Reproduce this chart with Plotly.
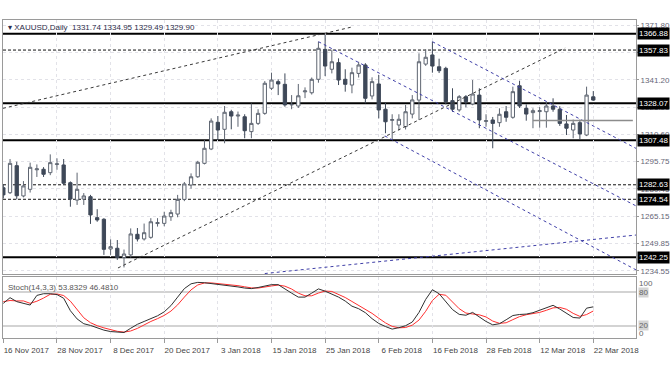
import plotly.graph_objects as go

# ---------------- data ----------------
bars = list(range(89))
opens = [1281, 1278.2, 1293.3, 1276.4, 1280.1, 1291, 1291.3, 1289.4, 1294, 1293.7,
         1283.8, 1274.1, 1274.7, 1276, 1264.3, 1263.4, 1246.8, 1247.2, 1242, 1243.5,
         1255, 1252.4, 1253.3, 1261, 1261.1, 1264.8, 1266.3, 1274.5, 1282.5, 1287.1,
         1294.6, 1302.6, 1317.5, 1313.6, 1323.4, 1321, 1320.6, 1312.3, 1316.9, 1322.5,
         1336.5, 1340.2, 1338.7, 1327.2, 1326.6, 1334.5, 1334, 1341.5, 1358.2, 1347.1,
         1350.8, 1341.5, 1338.3, 1344.8, 1349.5, 1332.2, 1338.9, 1324.8, 1318.6, 1316,
         1315.1, 1322.1, 1329.9, 1350, 1355.1, 1348.5, 1347.6, 1329.6, 1324.4, 1331.8,
         1327.7, 1332.7, 1318, 1318.8, 1317.3, 1323.4, 1320.3, 1337.9, 1325.3, 1322.9,
         1323.5, 1323.4, 1326.6, 1324.8, 1316.6, 1313.2, 1317.3, 1310.4, 1331.74]
highs = [1283, 1297, 1295.5, 1284.7, 1295, 1294, 1292.5, 1299.6, 1297.4, 1297,
         1284.5, 1289.4, 1278, 1277, 1269, 1264, 1252.2, 1251.8, 1246.5, 1258.3,
         1258.5, 1261, 1264, 1264, 1267.6, 1268.7, 1277, 1284.2, 1289, 1296,
         1307.6, 1319.7, 1321, 1326.6, 1324.5, 1323.5, 1322, 1328, 1324.8, 1340.5,
         1345.2, 1341.5, 1344.8, 1332.7, 1338.9, 1337, 1342.5, 1362.5, 1366.5, 1358,
         1353.2, 1347.1, 1348, 1351.3, 1350.5, 1342.6, 1343.9, 1328.4, 1322, 1322,
         1327.2, 1332.7, 1356, 1358.2, 1362.5, 1353, 1348.5, 1336.5, 1332.7, 1332.7,
         1341.1, 1336.5, 1322, 1320.5, 1325.3, 1326.6, 1337.4, 1340.7, 1327.5, 1325.3,
         1326, 1329, 1330.9, 1326.5, 1321.6, 1319, 1319, 1337.4, 1334.95]
lows = [1275, 1277.5, 1274.5, 1275.6, 1278.3, 1287, 1287, 1288, 1291, 1282.5,
        1270.4, 1271.4, 1271.4, 1260.8, 1262, 1243.5, 1243.5, 1240.7, 1236.5, 1242,
        1251, 1251.5, 1252.5, 1259.3, 1259.5, 1262.5, 1264.5, 1273.5, 1280.5, 1286.5,
        1294, 1302, 1307.6, 1305.8, 1313.6, 1315, 1308.6, 1308.6, 1316, 1321.7,
        1335.5, 1332.7, 1326.2, 1324.8, 1325.5, 1331, 1333, 1339.6, 1343.3, 1344.8,
        1338.3, 1334.6, 1333.7, 1342.5, 1328.1, 1330.3, 1319.7, 1311.4, 1308, 1313,
        1313.5, 1319.7, 1318.8, 1349, 1345.2, 1345, 1327.5, 1323.4, 1323.4, 1325.9,
        1327, 1314.2, 1315, 1303, 1315, 1317.8, 1319.5, 1325.5, 1318.4, 1314.2,
        1314.5, 1314.5, 1323.4, 1315.5, 1310.4, 1308.6, 1308, 1309.8, 1329.49]
closes = [1277, 1294.6, 1276.5, 1282, 1292.4, 1291.5, 1288.5, 1295, 1294.3, 1283.5,
          1274.7, 1280.1, 1276.4, 1265.8, 1263, 1246.6, 1248.1, 1242, 1244, 1255.2,
          1252.4, 1255.9, 1262, 1261.5, 1265.2, 1267.1, 1274.5, 1283.1, 1287.1, 1295.2,
          1303, 1318.2, 1313.2, 1323.1, 1321, 1321.5, 1312.8, 1316.9, 1322.5, 1339.3,
          1341.1, 1338.9, 1327.2, 1327.5, 1332.3, 1335, 1341.5, 1358.8, 1348.9, 1351.3,
          1341.1, 1338.7, 1345.2, 1349.5, 1330.9, 1340.2, 1324.4, 1317.8, 1319, 1319.2,
          1323.4, 1330, 1351.3, 1353.8, 1348.9, 1346.3, 1329, 1324.8, 1331.8, 1329,
          1333.3, 1318.8, 1318.4, 1316.9, 1322, 1320.3, 1334.6, 1326.6, 1322.1, 1324,
          1324, 1326.6, 1324.8, 1316.9, 1314.2, 1316.9, 1311, 1332.7, 1329.90]

stoch_k = [60, 70, 63, 60, 57, 74, 77, 77, 75.5, 69,
           47, 32.5, 24, 21, 16.5, 12.7, 10.2, 9, 8.5, 16,
           23, 28, 33, 38, 45, 56, 71, 86, 94.5, 97,
           96.4, 95, 94, 93, 91.5, 89, 87, 86, 88, 91,
           93, 93, 85, 78, 71, 71, 78, 85.5, 81.5, 76,
           71, 64, 55, 50.5, 43.5, 33, 24.5, 19, 14.5, 17,
           20.5, 27, 44, 67, 84, 77, 62, 49, 40.5, 39,
           44, 36, 28, 22, 24, 31, 38.5, 40.3, 41, 43.5,
           47.5, 52, 56.5, 50, 42, 35, 34, 51.5, 53.83]
stoch_d = [63, 65, 64.3, 64.3, 60, 63.7, 69.3, 76, 76.5, 73.8,
           63.8, 49.5, 34.5, 25.8, 20.5, 16.7, 13.1, 10.6, 9.2, 11.2,
           15.8, 22.3, 28, 33, 38.7, 46.3, 57.3, 71, 83.8, 92.5,
           96, 96.1, 95.1, 94, 92.8, 91.2, 89.2, 87.3, 87, 88.3,
           90.7, 92.3, 90.3, 85.3, 78, 73.3, 73.3, 78.2, 81.7, 81,
           76.2, 70.3, 63.3, 56.5, 49.7, 42.3, 33.7, 25.5, 19.3, 16.8,
           17.3, 21.5, 30.5, 46, 65, 76, 74.3, 62.7, 50.5, 42.8,
           41.2, 39.7, 36, 28.7, 24.7, 25.7, 31.2, 36.6, 39.9, 41.6,
           44, 47.7, 52, 52.8, 49.5, 42.3, 37, 40.2, 46.48]

tick_bars = [0, 8, 16, 24, 32, 40, 48, 56, 64, 72, 80, 88]
tick_labels = ["16 Nov 2017", "28 Nov 2017", "8 Dec 2017", "20 Dec 2017", "3 Jan 2018",
               "15 Jan 2018", "25 Jan 2018", "6 Feb 2018", "16 Feb 2018", "28 Feb 2018",
               "12 Mar 2018", "22 Mar 2018"]

price_ticks = [1371.80, 1356.50, 1341.20, 1325.90, 1310.60, 1295.75, 1280.45, 1265.15, 1249.85, 1234.55]
solid_levels = [1366.88, 1328.07, 1307.48, 1242.25]
dashed_levels = [1357.83, 1282.63, 1274.54]

# trend lines: (bar start, price start, bar end, price end)
black_trends = [(-0.05, 1325.3, 52.0, 1370.7), (17.1, 1236.2, 83.8, 1359.0)]
blue_trends = [(47, 1362.5, 94.4, 1270.8), (64, 1362.5, 94.4, 1302.9),
               (56.9, 1309.9, 94.4, 1235.1), (39.0, 1233.1, 94.4, 1254.6)]
gray_segment = (79, 1318.5, 93.9, 1318.5)

title_text = "▾ XAUUSD,Daily  1331.74 1334.95 1329.49 1329.90"
stoch_text = "Stoch(14,3,3) 53.8329 46.4810"

# ---------------- figure ----------------
FONT = "Liberation Sans, Arial, sans-serif"
fig = go.Figure()

for (b0, p0, b1, p1) in black_trends:
    fig.add_trace(go.Scatter(x=[b0, b1], y=[p0, p1], mode="lines", xaxis="x", yaxis="y",
                             line=dict(color="#3a3a3a", width=1, dash="3px,3px"), hoverinfo="skip"))
for (b0, p0, b1, p1) in blue_trends:
    fig.add_trace(go.Scatter(x=[b0, b1], y=[p0, p1], mode="lines", xaxis="x", yaxis="y",
                             line=dict(color="#4040a8", width=1, dash="3px,3px"), hoverinfo="skip"))
fig.add_trace(go.Scatter(x=[gray_segment[0], gray_segment[2]], y=[gray_segment[1], gray_segment[3]],
                         mode="lines", xaxis="x", yaxis="y",
                         line=dict(color="#8c8c8c", width=1.5), hoverinfo="skip"))

fig.add_trace(go.Candlestick(
    x=bars, open=opens, high=highs, low=lows, close=closes, xaxis="x", yaxis="y",
    increasing=dict(fillcolor="#ffffff", line=dict(color="#5e6571", width=1)),
    decreasing=dict(fillcolor="#3e4858", line=dict(color="#3e4858", width=1)),
    whiskerwidth=0, hoverinfo="skip"))

fig.add_trace(go.Scatter(x=bars, y=stoch_d, mode="lines", xaxis="x2", yaxis="y2",
                         line=dict(color="#ff3030", width=1), hoverinfo="skip"))
fig.add_trace(go.Scatter(x=bars, y=stoch_k, mode="lines", xaxis="x2", yaxis="y2",
                         line=dict(color="#303030", width=1), hoverinfo="skip"))

shapes = []
for lv in solid_levels:
    shapes.append(dict(type="line", xref="x domain", yref="y", x0=0, x1=1, y0=lv, y1=lv,
                       line=dict(color="#000000", width=2), layer="below"))
for lv in dashed_levels:
    shapes.append(dict(type="line", xref="x domain", yref="y", x0=0, x1=1, y0=lv, y1=lv,
                       line=dict(color="#111111", width=1, dash="3px,2px"), layer="below"))
for lv in [80, 20]:
    shapes.append(dict(type="line", xref="x2 domain", yref="y2", x0=0, x1=1, y0=lv, y1=lv,
                       line=dict(color="#c4c4c4", width=1.5), layer="below"))

annotations = []
for lv in solid_levels + dashed_levels:
    annotations.append(dict(x=1, xref="paper", y=lv, yref="y", xanchor="left", yanchor="middle",
                            xshift=1, text="%.2f" % lv, showarrow=False, bgcolor="#000000",
                            font=dict(color="#ffffff", size=8, family=FONT), borderpad=1))
for lv, txt, boxed in [(100, "100", False), (80, "80", True), (20, "20", True), (0, "0", False)]:
    annotations.append(dict(x=1, xref="paper", y=lv, yref="y2", xanchor="left", yanchor="middle",
                            xshift=2, yshift=(-3 if lv == 100 else (4 if lv == 0 else 0)),
                            text=txt, showarrow=False,
                            bgcolor=("#d4d4d4" if boxed else "rgba(0,0,0,0)"),
                            font=dict(color="#666666", size=8, family=FONT), borderpad=0))
annotations.append(dict(x=0, xref="paper", y=1, yref="paper", xanchor="left", yanchor="top",
                        xshift=3, yshift=-1, text=title_text, showarrow=False,
                        font=dict(color="#2d2d4a", size=8, family=FONT)))
annotations.append(dict(x=0, xref="paper", y=1, yref="y2 domain", xanchor="left", yanchor="top",
                        xshift=3, yshift=-4, text=stoch_text, showarrow=False,
                        font=dict(color="#555555", size=8, family=FONT)))

grid_col = "#e2e2e8"
fig.update_layout(
    template="none",
    width=672, height=372,
    margin=dict(l=3, r=36, t=20, b=34, autoexpand=False),
    paper_bgcolor="#ffffff", plot_bgcolor="#ffffff",
    showlegend=False, hovermode=False,
    font=dict(family=FONT, size=8, color="#555555"),
    shapes=shapes,
    annotations=annotations,
    xaxis=dict(domain=[0, 1], anchor="y", range=[-0.05, 94.37], rangeslider=dict(visible=False),
               tickvals=tick_bars, showticklabels=False, ticks="", automargin=False,
               showgrid=True, gridcolor=grid_col, griddash="dot", gridwidth=1,
               showline=True, mirror=True, linecolor="#9a9a9a", linewidth=1, zeroline=False),
    yaxis=dict(domain=[0.2013, 1], anchor="x", side="right", range=[1232.85, 1374.6],
               tickvals=price_ticks, ticktext=["%.2f" % v for v in price_ticks],
               ticks="outside", ticklen=2, tickcolor="#9a9a9a", automargin=False,
               tickfont=dict(size=8, color="#666677", family=FONT),
               showgrid=True, gridcolor=grid_col, griddash="dot", gridwidth=1,
               showline=True, mirror=True, linecolor="#9a9a9a", linewidth=1, zeroline=False),
    xaxis2=dict(domain=[0, 1], anchor="y2", matches="x", range=[-0.05, 94.37],
                tickvals=tick_bars, ticktext=tick_labels, ticks="outside", ticklen=4,
                tickcolor="#9a9a9a", ticklabelshift=23, automargin=False,
                tickfont=dict(size=8, color="#444444", family=FONT),
                showgrid=True, gridcolor=grid_col, griddash="dot", gridwidth=1,
                showline=True, mirror=True, linecolor="#9a9a9a", linewidth=1, zeroline=False),
    yaxis2=dict(domain=[0, 0.1918], anchor="x2", side="right", range=[-1.2, 106.5],
                showticklabels=False, ticks="", showgrid=False, automargin=False,
                showline=True, mirror=True, linecolor="#9a9a9a", linewidth=1, zeroline=False),
)

fig.write_html("out.html", config={"displayModeBar": False},
               post_script="document.body.style.margin='0';document.body.style.overflow='hidden';")
